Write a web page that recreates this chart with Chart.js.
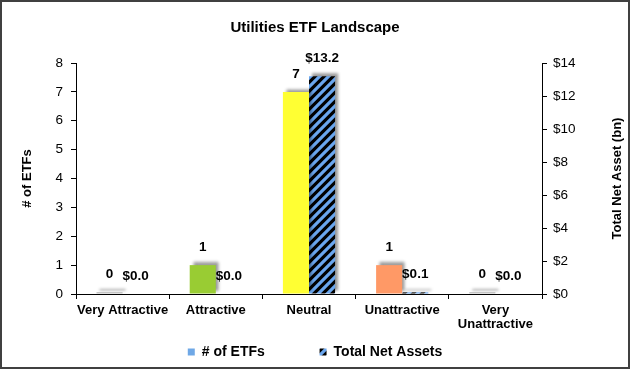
<!DOCTYPE html>
<html>
<head>
<meta charset="utf-8">
<script src="https://cdn.jsdelivr.net/npm/chart.js@4.4.0/dist/chart.umd.min.js"></script>
<style>
  body { margin: 0; background: #fff; }
</style>
</head>
<body>
<canvas id="etfChart" width="630" height="369"></canvas>
<script>
// data
const categories = ['Very Attractive', 'Attractive', 'Neutral', 'Unattractive', ['Very', 'Unattractive']];
const etfCounts = [0, 1, 7, 1, 0];
const netAssets = [0.0, 0.0, 13.2, 0.1, 0.0];
const etfColors = ['#c4c4c4', '#99cc33', '#ffff33', '#ff9966', '#c4c4c4'];
const countAxisMax = 8;
const assetAxisMax = 14;
const assetAxisStep = 2;

const FONT = "'Liberation Sans', Arial, sans-serif";
Chart.defaults.font.family = FONT;
Chart.defaults.color = '#000';

// black bars with blue diagonal stripes
function makeHatch() {
  const c = document.createElement('canvas');
  c.width = 9; c.height = 9;
  const g = c.getContext('2d');
  g.fillStyle = '#000';
  g.fillRect(0, 0, 9, 9);
  g.strokeStyle = '#6aa6ee';
  g.lineWidth = 3.2;
  g.beginPath();
  g.moveTo(-2, 2); g.lineTo(2, -2);
  g.moveTo(0, 9); g.lineTo(9, 0);
  g.moveTo(7, 11); g.lineTo(11, 7);
  g.stroke();
  return g.createPattern(c, 'repeat');
}
const hatch = makeHatch();

const barExtras = {
  id: 'barExtras',
  beforeDatasetsDraw(chart) {
    const ctx = chart.ctx;
    ctx.save();
    ctx.shadowColor = 'rgba(0,0,0,0.4)';
    ctx.shadowBlur = 3;
    ctx.shadowOffsetX = 3;
    ctx.shadowOffsetY = -3;
  },
  afterDatasetsDraw(chart) {
    const ctx = chart.ctx;
    ctx.restore();
    // value labels
    ctx.save();
    ctx.font = 'bold 13.5px ' + FONT;
    ctx.fillStyle = '#000';
    ctx.textAlign = 'center';
    ctx.textBaseline = 'middle';
    chart.data.datasets.forEach((ds, i) => {
      chart.getDatasetMeta(i).data.forEach((bar, j) => {
        const v = ds.data[j];
        const txt = i === 0 ? String(v) : '$' + v.toFixed(1);
        ctx.fillText(txt, bar.x, bar.y - 18);
      });
    });
    ctx.restore();
  },
  afterDraw(chart) {
    const ctx = chart.ctx;
    const ax = chart.scales.assets;
    const area = chart.chartArea;
    ctx.save();
    // right axis title, reads bottom to top
    ctx.translate(ax.right - 13, (area.top + area.bottom) / 2);
    ctx.rotate(-Math.PI / 2);
    ctx.font = 'bold 13px ' + FONT;
    ctx.fillStyle = '#000';
    ctx.textAlign = 'center';
    ctx.textBaseline = 'middle';
    ctx.fillText('Total Net Asset (bn)', 0, 0);
    ctx.restore();
    // outer frame
    ctx.save();
    ctx.strokeStyle = '#404040';
    ctx.lineWidth = 2;
    ctx.strokeRect(1, 1, chart.width - 2, chart.height - 2);
    ctx.restore();
  }
};

new Chart(document.getElementById('etfChart'), {
  type: 'bar',
  data: {
    labels: categories,
    datasets: [
      {
        label: '# of ETFs',
        data: etfCounts,
        backgroundColor: etfColors,
        yAxisID: 'count',
        minBarLength: 2,
        categoryPercentage: 0.56,
        barPercentage: 1
      },
      {
        label: 'Total Net Assets',
        data: netAssets,
        backgroundColor: hatch,
        yAxisID: 'assets',
        categoryPercentage: 0.56,
        barPercentage: 1
      }
    ]
  },
  options: {
    responsive: false,
    animation: false,
    layout: { padding: { left: 0, right: 0, top: 0, bottom: 0 } },
    plugins: {
      title: {
        display: true,
        text: 'Utilities ETF Landscape',
        color: '#000',
        font: { size: 15, weight: 'bold' },
        padding: { top: 19, bottom: 26 }
      },
      legend: {
        position: 'bottom',
        labels: {
          boxWidth: 7,
          boxHeight: 7,
          padding: 12,
          color: '#000',
          font: { size: 14, weight: 'bold' },
          generateLabels: () => [
            { text: '# of ETFs           ', fillStyle: '#6fa8e6', strokeStyle: '#6fa8e6', lineWidth: 0, datasetIndex: 0 },
            { text: 'Total Net Assets', fillStyle: hatch, strokeStyle: '#000', lineWidth: 0, datasetIndex: 1 }
          ]
        }
      },
      tooltip: { enabled: false }
    },
    scales: {
      x: {
        grid: { drawOnChartArea: false, drawTicks: true, tickLength: 5, color: '#000', offset: true },
        border: { color: '#000', width: 1 },
        ticks: {
          maxRotation: 0,
          autoSkip: false,
          padding: 4,
          color: '#000',
          font: { size: 13, weight: 'bold', lineHeight: 1.1 }
        },
        afterFit(s) { s.height = 39; }
      },
      count: {
        position: 'left',
        min: 0,
        max: countAxisMax,
        grid: { drawOnChartArea: false, drawTicks: true, tickLength: 5, color: '#000' },
        border: { color: '#000', width: 1 },
        ticks: { stepSize: 1, padding: 8, color: '#000', font: { size: 13.5 } },
        title: {
          display: true,
          text: '# of ETFs',
          color: '#000',
          font: { size: 13, weight: 'bold' },
          padding: { top: 20, bottom: 0 }
        },
        afterFit(s) { s.width = 76; }
      },
      assets: {
        position: 'right',
        min: 0,
        max: assetAxisMax,
        grid: { drawOnChartArea: false, drawTicks: true, tickLength: 5, color: '#000' },
        border: { color: '#000', width: 1 },
        ticks: {
          stepSize: assetAxisStep,
          padding: 6,
          color: '#000',
          font: { size: 13.5 },
          callback: v => '$' + v
        },
        afterFit(s) { s.width = 88; }
      }
    }
  },
  plugins: [barExtras]
});
</script>
</body>
</html>
